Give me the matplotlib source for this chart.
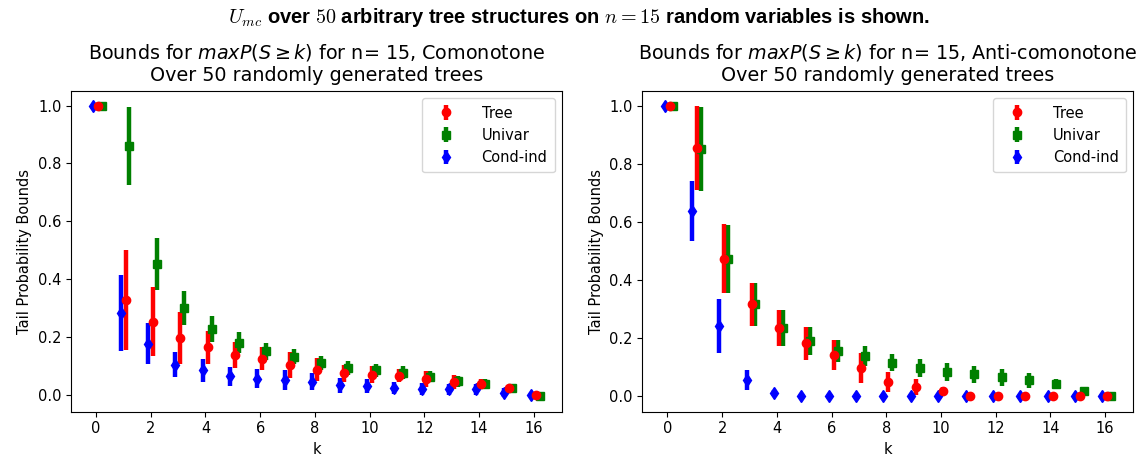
import matplotlib
matplotlib.use("Agg")
import matplotlib.pyplot as plt
import numpy as np

k = np.arange(17)

# Comonotone panel (mean, half-width of error bar)
tree_como = [1.0, 0.329, 0.254, 0.197, 0.166, 0.137, 0.126, 0.103, 0.088, 0.075, 0.071, 0.067, 0.055, 0.046, 0.037, 0.023, 0.0]
tree_como_err = [0.0, 0.173, 0.12, 0.09, 0.057, 0.045, 0.04, 0.045, 0.039, 0.029, 0.028, 0.022, 0.027, 0.024, 0.017, 0.013, 0.005]
univ_como = [1.0, 0.861, 0.452, 0.301, 0.227, 0.181, 0.151, 0.132, 0.111, 0.094, 0.086, 0.077, 0.063, 0.048, 0.040, 0.023, -0.002]
univ_como_err = [0.0, 0.135, 0.089, 0.06, 0.045, 0.036, 0.029, 0.026, 0.023, 0.025, 0.023, 0.022, 0.019, 0.019, 0.017, 0.012, 0.004]
cond_como = [1.0, 0.284, 0.178, 0.105, 0.086, 0.065, 0.057, 0.051, 0.046, 0.034, 0.031, 0.025, 0.021, 0.020, 0.020, 0.008, 0.0]
cond_como_err = [0.0, 0.13, 0.072, 0.044, 0.04, 0.032, 0.033, 0.034, 0.03, 0.026, 0.024, 0.02, 0.021, 0.02, 0.018, 0.015, 0.004]

# Anti-comonotone panel
tree_anti = [1.0, 0.854, 0.473, 0.315, 0.235, 0.181, 0.141, 0.097, 0.049, 0.031, 0.017, 0.0, 0.0, 0.0, 0.0, 0.0, 0.0]
tree_anti_err = [0.0, 0.145, 0.118, 0.075, 0.062, 0.058, 0.052, 0.052, 0.035, 0.028, 0.014, 0.003, 0.002, 0.002, 0.002, 0.002, 0.002]
univ_anti = [1.0, 0.851, 0.472, 0.315, 0.233, 0.189, 0.155, 0.137, 0.115, 0.097, 0.083, 0.075, 0.065, 0.054, 0.040, 0.017, 0.0]
univ_anti_err = [0.0, 0.145, 0.118, 0.075, 0.062, 0.047, 0.039, 0.034, 0.03, 0.03, 0.031, 0.029, 0.029, 0.026, 0.017, 0.006, 0.003]
cond_anti = [1.0, 0.636, 0.241, 0.055, 0.009, 0.0, 0.0, 0.0, 0.0, 0.0, 0.0, 0.0, 0.0, 0.0, 0.0, 0.0, 0.0]
cond_anti_err = [0.0, 0.103, 0.094, 0.033, 0.01, 0.004, 0.004, 0.004, 0.004, 0.004, 0.004, 0.004, 0.004, 0.004, 0.004, 0.004, 0.004]

labels = ["Tree", "Univar", "Cond-ind"]
titles = [
    r"Bounds for $maxP(S \geq k)$ for n= 15, Comonotone" + "\nOver 50 randomly generated trees",
    r"Bounds for $maxP(S \geq k)$ for n= 15, Anti-comonotone" + "\nOver 50 randomly generated trees",
]
suptitle = r"$U_{mc}$ over $50$ arbitrary tree structures on $n = 15$ random variables is shown."

fig = plt.figure(figsize=(11.44, 4.57), dpi=100)
axes = [
    fig.add_axes([0.0621, 0.0991, 0.4292, 0.7018]),
    fig.add_axes([0.5615, 0.0991, 0.4292, 0.7018]),
]

panels = [
    (tree_como, tree_como_err, univ_como, univ_como_err, cond_como, cond_como_err),
    (tree_anti, tree_anti_err, univ_anti, univ_anti_err, cond_anti, cond_anti_err),
]

for ax, data, title in zip(axes, panels, titles):
    tr, tre, un, une, co, coe = data
    hu = ax.errorbar(k + 0.22, un, yerr=une, fmt="s", color="g", ms=6, elinewidth=3.2, capsize=0)
    hc = ax.errorbar(k - 0.1, co, yerr=coe, fmt="d", color="b", ms=6, elinewidth=3.2, capsize=0)
    ht = ax.errorbar(k + 0.08, tr, yerr=tre, fmt="o", color="r", ms=6, elinewidth=3.2, capsize=0)
    ax.set_xticks(np.arange(0, 17, 2))
    ax.set_yticks(np.arange(0, 1.01, 0.2))
    ax.set_title(title, fontsize=13.8, linespacing=1.25, pad=7)
    ax.set_xlabel("k", fontsize=10.5)
    ax.set_ylabel("Tail Probability Bounds", fontsize=10.5)
    ax.tick_params(labelsize=10.5)
    ax.legend([ht, hu, hc], labels, loc="upper right", fontsize=10.5,
              handlelength=2.3, handletextpad=1.3, labelspacing=0.5, borderpad=0.5)

fig.text(0.506, 0.962, suptitle, ha="center", va="center", fontsize=14.5,
         fontweight="bold", family=["Liberation Sans", "DejaVu Sans"], math_fontfamily="cm")

fig.savefig("out.png", dpi=100)
